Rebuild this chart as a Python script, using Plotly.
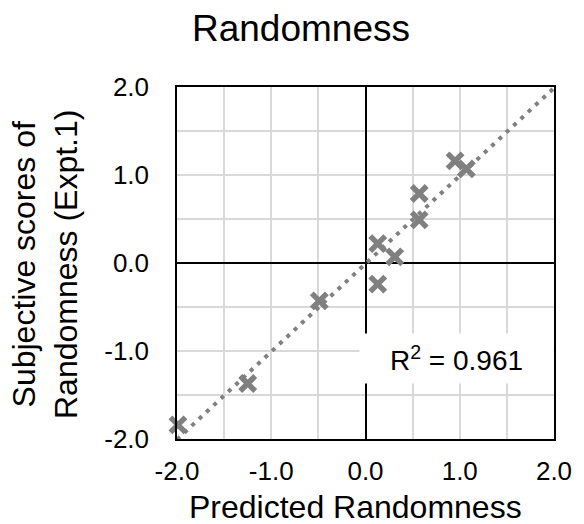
import numpy as np
import plotly.graph_objects as go

# Predicted vs. subjective randomness scores (Expt.1)
predicted = [-1.99, -1.25, -0.49, 0.13, 0.13, 0.31, 0.57, 0.57, 0.95, 1.07]
subjective = [-1.84, -1.37, -0.43, -0.24, 0.22, 0.07, 0.49, 0.79, 1.16, 1.07]
r_squared = 0.961

tick_vals = [-2.0, -1.0, 0.0, 1.0, 2.0]
tick_text = ["-2.0", "-1.0", "0.0", "1.0", "2.0"]

FONT = "Liberation Sans, Arial, sans-serif"
GRAY = "#808080"

# Linear trend line across the full axis range
slope, intercept = np.polyfit(predicted, subjective, 1)
trend_x = np.array([-2.0, 2.0])
trend_y = slope * trend_x + intercept

fig = go.Figure()
fig.add_trace(go.Scatter(
    x=predicted, y=subjective, mode="markers",
    marker=dict(symbol="x-thin", size=15, line=dict(width=5.5, color=GRAY), color=GRAY),
    showlegend=False, cliponaxis=False,
))
fig.add_trace(go.Scatter(
    x=trend_x, y=trend_y, mode="lines",
    line=dict(color=GRAY, width=4, dash="4px,6px"),
    showlegend=False,
))

axis_common = dict(
    range=[-2, 2], tickvals=tick_vals, ticktext=tick_text,
    showgrid=True, gridcolor="#d9d9d9", gridwidth=1.5,
    minor=dict(dtick=0.5, tick0=0, showgrid=True, gridcolor="#d9d9d9", gridwidth=1.5),
    zeroline=True, zerolinecolor="black", zerolinewidth=1.5,
    showline=True, linecolor="black", linewidth=1.5, mirror=True,
    ticks="", tickfont=dict(family=FONT, size=26, color="black"),
    fixedrange=True,
)

fig.update_xaxes(**axis_common, ticklabelstandoff=8)
fig.update_yaxes(**axis_common, ticklabelstandoff=21)

fig.update_layout(
    width=584, height=524,
    margin=dict(l=177, r=24, t=87, b=85),
    paper_bgcolor="white", plot_bgcolor="white",
    font=dict(family=FONT, color="black"),
    title=dict(text="Randomness", x=301 / 584, xanchor="center",
               y=1 - 28 / 524, yanchor="middle", yref="container",
               font=dict(family=FONT, size=37, color="black")),
    annotations=[
        dict(text="Predicted Randomness", xref="paper", yref="paper",
             x=0.5, y=0, xanchor="center", yanchor="top",
             xshift=-10, yshift=-48, showarrow=False,
             font=dict(family=FONT, size=32, color="black")),
        dict(text="Subjective scores of<br>Randomness (Expt.1)",
             xref="paper", yref="paper", x=0, y=0.5,
             xanchor="center", yanchor="middle", xshift=-132, yshift=-2,
             textangle=-90, showarrow=False,
             font=dict(family=FONT, size=32, color="black")),
        dict(text=f"R<sup>2</sup> = {r_squared:.3f}", xref="x", yref="y",
             x=0.961, y=-1.085, showarrow=False,
             width=191, height=47, bgcolor="white",
             font=dict(family=FONT, size=28, color="black")),
    ],
)

fig.write_html("out.html")
